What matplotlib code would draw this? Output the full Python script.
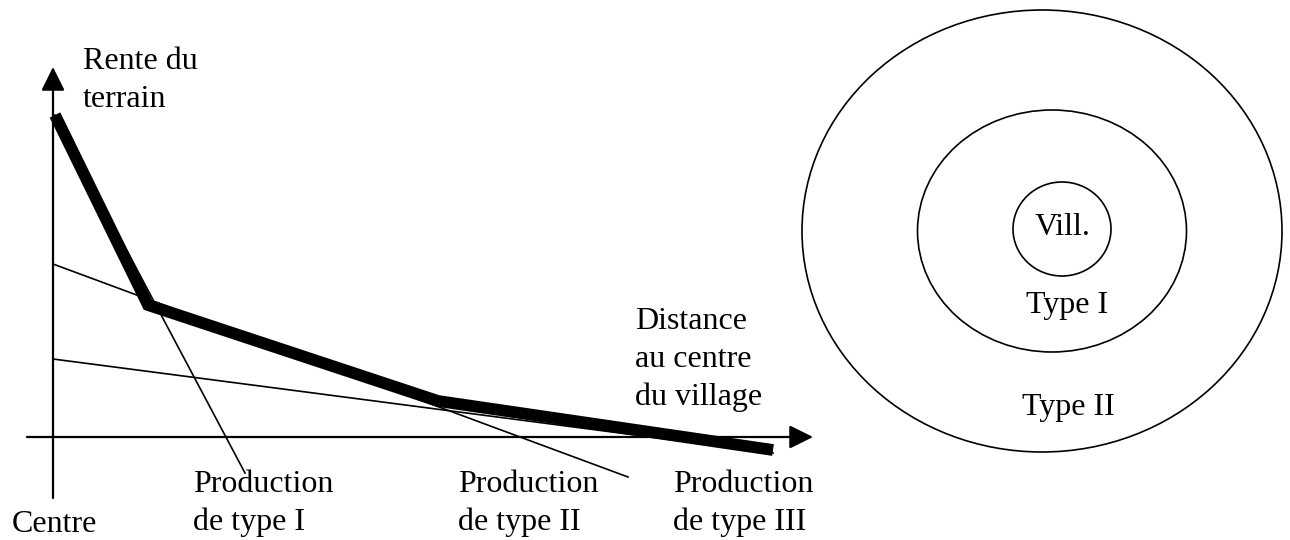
import matplotlib.pyplot as plt
from matplotlib.patches import Ellipse

plt.rcParams['font.family'] = ['Liberation Serif', 'DejaVu Serif']

# enveloppe de la rente (trait épais)
env_x = [0.02, 0.95, 3.85, 7.20]
env_y = [3.22, 1.32, 0.36, -0.13]

# droites de rente par type de production
type1_x = [0.02, 1.92]
type1_y = [3.22, -0.36]
type2_x = [0.0, 5.75]
type2_y = [1.73, -0.40]
type3_x = [0.0, 7.20]
type3_y = [0.78, -0.16]

# zones concentriques (centre x, centre y, largeur, hauteur)
zones = [(9.89, 2.06, 4.80, 4.42),
         (9.99, 2.06, 2.69, 2.42),
         (10.09, 2.08, 0.98, 0.94)]
zone_labels = ['Vill.', 'Type I', 'Type II']
zone_label_pos = [(10.10, 2.02), (10.14, 1.24), (10.15, 0.22)]

fig = plt.figure(figsize=(12.9, 5.4), dpi=100)
ax = fig.add_axes([0, 0, 1, 1])
ax.set_xlim(-0.53, 12.37)
ax.set_ylim(-1.03, 4.37)
ax.axis('off')

# axes avec flèches
arrow = dict(arrowstyle='-|>,head_length=1.45,head_width=0.72',
             color='black', lw=1.6, shrinkA=0, shrinkB=0)
ax.annotate('', xy=(0, 3.70), xytext=(0, -0.61), arrowprops=arrow)
ax.annotate('', xy=(7.60, 0), xytext=(-0.26, 0), arrowprops=arrow)

ax.plot(type1_x, type1_y, color='black', lw=1.2)
ax.plot(type2_x, type2_y, color='black', lw=1.2)
ax.plot(type3_x, type3_y, color='black', lw=1.2)
ax.plot(env_x, env_y, color='black', lw=8.5, solid_joinstyle='miter',
        solid_capstyle='butt')

fs = 23
ls = 1.39
ax.text(0.30, 3.30, 'Rente du\nterrain', fontsize=fs, va='baseline', linespacing=ls)
ax.text(-0.41, -0.95, 'Centre', fontsize=fs, va='baseline')
ax.text(1.40, -0.93, 'Production\nde type I', fontsize=fs, va='baseline', linespacing=ls)
ax.text(4.05, -0.93, 'Production\nde type II', fontsize=fs, va='baseline', linespacing=ls)
ax.text(6.20, -0.93, 'Production\nde type III', fontsize=fs, va='baseline', linespacing=ls)
ax.text(5.82, 0.32, 'Distance\nau centre\ndu village', fontsize=fs, va='baseline',
        linespacing=ls)

for (cx, cy, w, h) in zones:
    ax.add_patch(Ellipse((cx, cy), w, h, fill=False, ec='black', lw=1.2))
for lab, (lx, ly) in zip(zone_labels, zone_label_pos):
    ax.text(lx, ly, lab, fontsize=fs, ha='center', va='baseline')

fig.savefig('out.png', dpi=100)
